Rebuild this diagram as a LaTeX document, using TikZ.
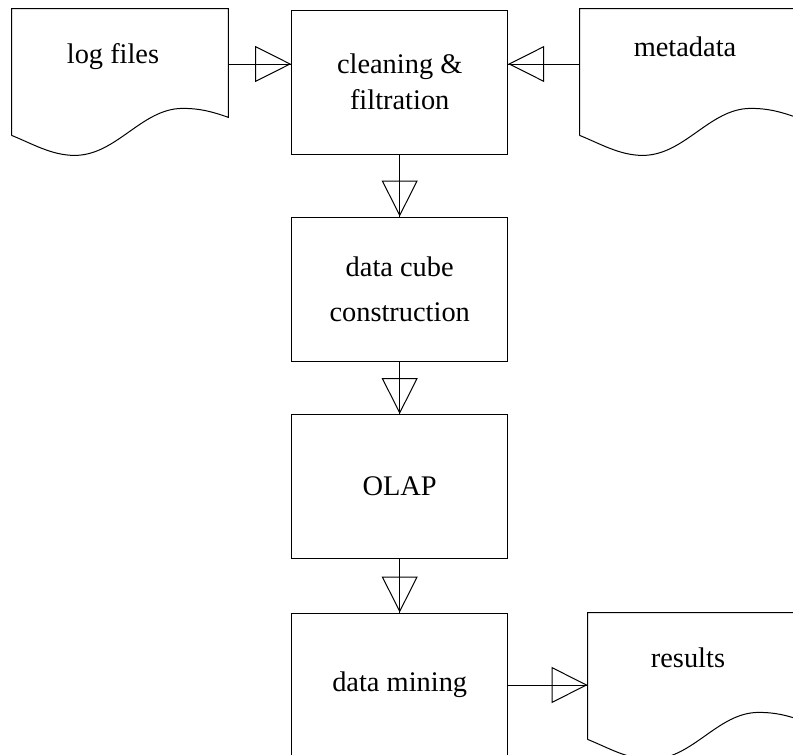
\documentclass[tikz,border=0pt]{standalone}
\usepackage{fontspec}
\setmainfont{Liberation Serif}
\usetikzlibrary{arrows.meta}

\tikzset{
  stage/.style   = {draw, line width=.5pt, minimum width=108pt, minimum height=72pt,
                    inner sep=0pt, align=center, font=\fontsize{14.2}{18}\selectfont},
  docbox/.style  = {minimum width=108pt, minimum height=63pt, inner sep=0pt},
  doctext/.style = {font=\fontsize{14.2}{18}\selectfont},
  flow/.style    = {line width=.5pt, -{Triangle[open,length=18pt,width=18pt]},
                    postaction={draw, arrows=-}}
}

% outline of a document sheet round a docbox node
\newcommand{\DocSheet}[1]{%
  \draw[line width=.5pt] (#1.south west) -- (#1.north west) -- (#1.north east)
    -- ([shift={(0,-18)}]#1.south east)
    .. controls ([shift={(200,-24)}]#1.south west) and ([shift={(188,-27)}]#1.south west)
    .. ([shift={(171,-27)}]#1.south west)
    .. controls ([shift={(130,-27)}]#1.south west) and ([shift={(105,20)}]#1.south west)
    .. ([shift={(63,20)}]#1.south west)
    .. controls ([shift={(40,20)}]#1.south west) and ([shift={(20,8)}]#1.south west)
    .. (#1.south west);}

\begin{document}
\begin{tikzpicture}[x=.5pt, y=-.5pt]

\clip (0,0) rectangle (793,755);

\node[stage] (clean)  at (399.7,82)    {cleaning \&\\filtration};
\node[stage] (cube)   at (399.7,289)   {data cube\\[4.5pt]construction};
\node[stage] (olap)   at (399.7,486.5) {OLAP};
\node[stage] (mining) at (399.7,685)   {data mining};

\node[docbox] (logfiles) at (120,72)  {};
\node[docbox] (metadata) at (688,72)  {};
\node[docbox] (results)  at (696,676) {};

\DocSheet{logfiles}
\DocSheet{metadata}
\DocSheet{results}

\node[doctext] (logfilestext) at ([shift={(-7,48)}]logfiles.north) {log files};
\node[doctext] (metadatatext) at ([shift={(-3,38)}]metadata.north) {metadata};
\node[doctext] (resultstext)  at ([shift={(-8,45)}]results.north)  {results};

\coordinate (logout)  at ([yshift=4pt]logfiles.east);
\coordinate (metaout) at ([yshift=4pt]metadata.west);

\draw[flow] (logout)  -- (logout -| clean.west);
\draw[flow] (metaout) -- (metaout -| clean.east);
\draw[flow] (clean)  -- (cube);
\draw[flow] (cube)   -- (olap);
\draw[flow] (olap)   -- (mining);
\draw[flow] (mining) -- (mining -| results.west);

\end{tikzpicture}
\end{document}
